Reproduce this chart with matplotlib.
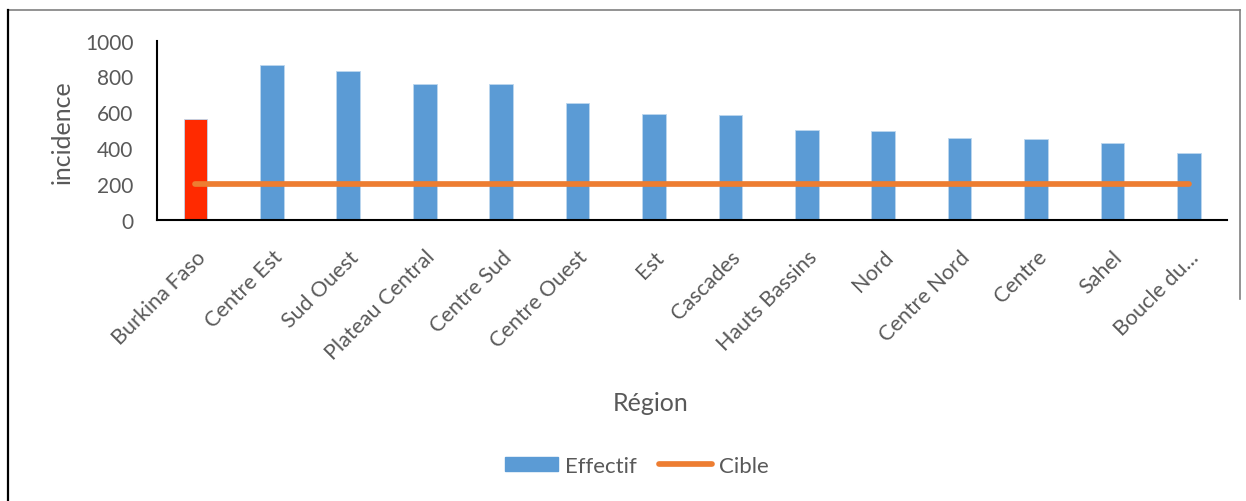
import matplotlib.pyplot as plt
from matplotlib.patches import Patch
from matplotlib.lines import Line2D

plt.rcParams['font.family'] = ['Lato', 'DejaVu Sans']

regions = ["Burkina Faso", "Centre Est", "Sud Ouest", "Plateau Central", "Centre Sud",
           "Centre Ouest", "Est", "Cascades", "Hauts Bassins", "Nord", "Centre Nord",
           "Centre", "Sahel", "Boucle du..."]
effectif = [562, 865, 832, 759, 755, 653, 592, 586, 502, 495, 456, 450, 431, 372]
cible = [200] * len(regions)

blue = "#5B9BD5"
orange = "#ED7D31"
red = "#FF2A00"
grey = "#595959"

fig = plt.figure(figsize=(12.46, 5.02), dpi=100)
ax = fig.add_axes([0.1262, 0.5598, 0.8586, 0.3575])

x = list(range(len(regions)))
colors = [red] + [blue] * (len(regions) - 1)
ax.bar(x, effectif, width=0.31, color=colors, edgecolor="#BDD7EE", linewidth=0.6)
ax.plot(x, cible, color=orange, linewidth=4.1, solid_capstyle="round")

ax.set_xlim(-0.5, len(regions) - 0.5)
ax.set_ylim(0, 1000)
ax.set_yticks([0, 200, 400, 600, 800, 1000])
ax.set_xticks(x)
ax.set_xticklabels(regions, rotation=45, ha="right", rotation_mode="anchor")
ax.tick_params(axis="y", length=0, labelsize=15, colors=grey, pad=17)
ax.tick_params(axis="x", length=0, labelsize=15.5, colors=grey, pad=19)
for s in ["top", "right"]:
    ax.spines[s].set_visible(False)
for s in ["left", "bottom"]:
    ax.spines[s].set_color("black")
    ax.spines[s].set_linewidth(1.5)

fig.text(61.7 / 1246, 1 - 132.5 / 502, "incidence", rotation=90, fontsize=18,
         color=grey, ha="center", va="center")
fig.text(0.522, 0.197, "Région", fontsize=18, color=grey, ha="center", va="center")

handles = [Patch(color=blue), Line2D([0], [0], color=orange, linewidth=4.1, solid_capstyle="round")]
fig.legend(handles, ["Effectif", "Cible"], loc="center", bbox_to_anchor=(0.511, 0.07),
           ncol=2, frameon=False, fontsize=16, labelcolor=grey,
           handlelength=2.4, handleheight=0.6, handletextpad=0.3, columnspacing=1.0)

# frame of the pasted chart
W, H = 1246, 502
fig.add_artist(Line2D([8 / W, 1240 / W], [1 - 11 / H, 1 - 11 / H], transform=fig.transFigure,
                      color="#808080", linewidth=1.2))
fig.add_artist(Line2D([8 / W, 8 / W], [0, 1 - 11 / H], transform=fig.transFigure,
                      color="black", linewidth=1.6))
fig.add_artist(Line2D([1240 / W, 1240 / W], [1 - 300 / H, 1 - 11 / H], transform=fig.transFigure,
                      color="#808080", linewidth=1.2))

fig.savefig("out.png", dpi=100)
